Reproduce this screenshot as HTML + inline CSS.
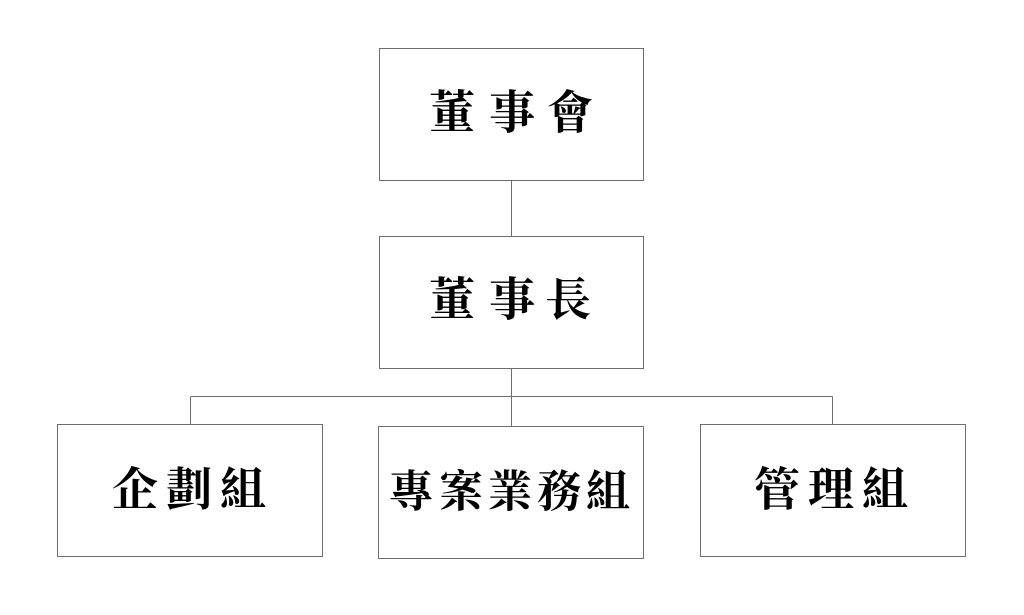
<!DOCTYPE html>
<html><head><meta charset="utf-8"><style>
html,body{margin:0;padding:0;background:#fff;}
svg{display:block}
text{font-family:"Liberation Serif","Noto Serif CJK TC","Noto Serif CJK SC",serif;font-weight:700;font-size:46px;fill:#000;text-anchor:middle;dominant-baseline:central;}
</style></head><body>
<svg width="1024" height="615" viewBox="0 0 1024 615">
<g fill="none" stroke="#6e6e6e" stroke-width="1">
<rect x="379.5" y="48.5" width="264" height="132"/>
<rect x="379.5" y="236.5" width="264" height="132"/>
<rect x="57.5" y="424.5" width="265" height="132"/>
<rect x="378.5" y="426.5" width="265" height="132"/>
<rect x="700.5" y="424.5" width="265" height="132"/>
<path d="M511.5 181V236M511.5 369V426M190.5 396.5H832.5M190.5 396.5V424M832.5 396.5V424"/>
</g>
<g>
<text x="452" y="113">董</text><text x="512" y="113">事</text><text x="570" y="113">會</text>
<text x="452" y="300">董</text><text x="512" y="300">事</text><text x="568" y="300">長</text>
<text x="135" y="490">企</text><text x="189" y="490">劃</text><text x="243" y="490">組</text>
<text x="411" y="492" style="font-size:44px">專</text><text x="461" y="492" style="font-size:44px">案</text><text x="510" y="492" style="font-size:44px">業</text><text x="559" y="492" style="font-size:44px">務</text><text x="608" y="492" style="font-size:44px">組</text>
<text x="777" y="490">管</text><text x="831" y="490">理</text><text x="885" y="490">組</text>
</g>
</svg>
</body></html>
